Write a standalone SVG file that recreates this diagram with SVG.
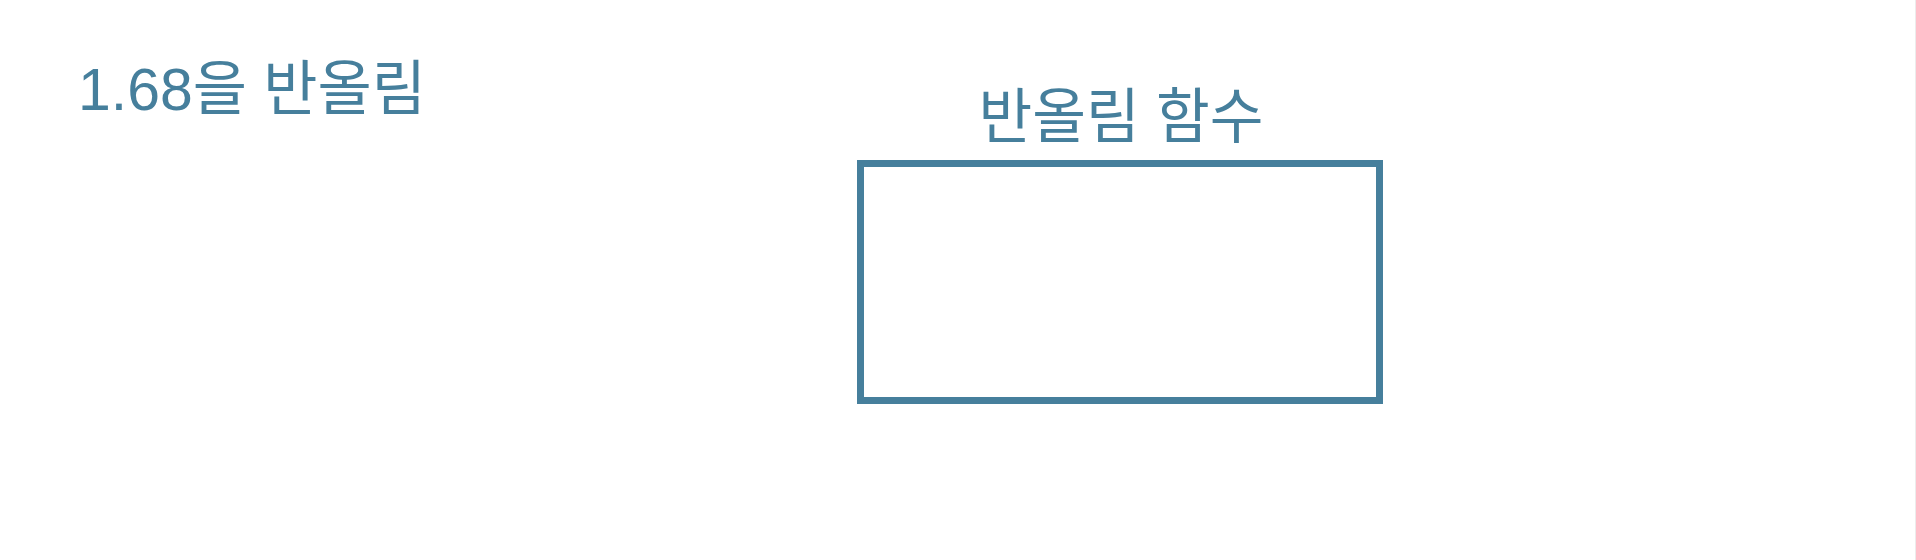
<svg xmlns="http://www.w3.org/2000/svg" width="1916" height="560" viewBox="0 0 1916 560">
  <style>
    .txt { font-family: "Liberation Sans", "Noto Sans CJK KR", sans-serif; fill: #467f9c; font-size: 60px; }
    .box { fill: none; stroke: #467f9c; stroke-width: 7; }
  </style>
  <rect x="0" y="0" width="1916" height="560" fill="#ffffff"/>
  <line x1="1915.5" y1="0" x2="1915.5" y2="560" stroke="#ececec" stroke-width="1"/>
  <g id="title">
    <text class="txt" x="78" y="110" textLength="348" lengthAdjust="spacingAndGlyphs">1.68을 반올림</text>
  </g>
  <g id="round-function">
    <rect class="box" x="860.5" y="163.5" width="519" height="237"/>
    <text class="txt" x="1121" y="138" text-anchor="middle" textLength="285" lengthAdjust="spacingAndGlyphs">반올림 함수</text>
  </g>
  <g id="connectors"></g>
</svg>
